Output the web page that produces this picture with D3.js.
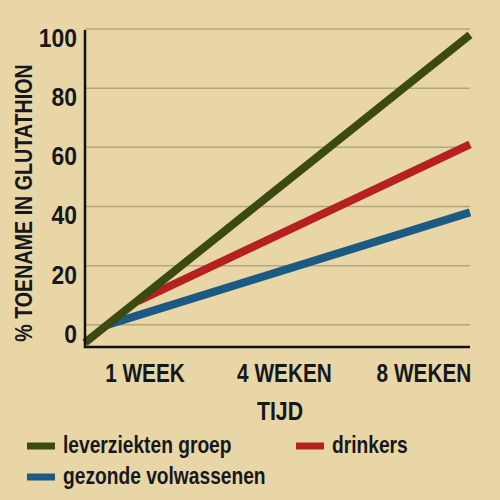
<!DOCTYPE html>
<html>
<head>
<meta charset="utf-8">
<script src="https://cdn.jsdelivr.net/npm/d3@7"></script>
<style>
  body { margin: 0; background: #e9d6a7; }
  svg { display: block; }
  text { font-family: "Liberation Sans Narrow", "Liberation Sans", sans-serif; font-weight: bold; fill: #15181c; }
</style>
</head>
<body>
<div id="chart"></div>
<script>
// data
const timeTicks = [1, 2, 3];
const timeLabels = ["1 WEEK", "4 WEKEN", "8 WEKEN"];
const valueTicks = [0, 20, 40, 60, 80, 100];

const liverTime = [0.57, 3.33];
const liverValue = [-6, 98];
const drinkersTime = [0.95, 3.33];
const drinkersValue = [8, 61];
const healthyTime = [0.73, 3.33];
const healthyValue = [0, 38];

const seriesNames = ["leverziekten groep", "drinkers", "gezonde volwassenen"];
const seriesColors = ["#3a4a10", "#b52020", "#1b5a82"];

window.addEventListener("load", () => {
  const width = 500, height = 500;
  const svg = d3.select("#chart").append("svg")
    .attr("width", width)
    .attr("height", height);

  svg.append("rect")
    .attr("width", width)
    .attr("height", height)
    .attr("fill", "#e9d6a7");

  // no narrow font here, so squeeze text horizontally
  const narrow = s => `scale(${s},1)`;

  // scales
  const x = d3.scaleLinear().domain([0.57, 3.33]).range([85, 470]);
  const y = d3.scaleLinear().domain([-7.5, 100]).range([347, 29]);

  // gridlines
  svg.append("g")
    .selectAll("line")
    .data(valueTicks)
    .join("line")
      .attr("x1", x.range()[0])
      .attr("x2", x.range()[1])
      .attr("y1", d => y(d))
      .attr("y2", d => y(d))
      .attr("stroke", "#b3a482")
      .attr("stroke-width", 1.5);

  // y tick labels
  svg.append("g")
    .selectAll("g")
    .data(valueTicks)
    .join("g")
      .attr("transform", d => `translate(77,${y(d) + 18})`)
    .append("text")
      .attr("transform", narrow(0.88))
      .attr("text-anchor", "end")
      .attr("font-size", 26)
      .text(d => d);

  // x tick labels
  svg.append("g")
    .selectAll("g")
    .data(timeTicks)
    .join("g")
      .attr("transform", d => `translate(${x(d)},382)`)
    .append("text")
      .attr("transform", narrow(0.8))
      .attr("text-anchor", "middle")
      .attr("font-size", 26)
      .text((d, i) => timeLabels[i]);

  // series lines, green last so it sits on top
  const series = [
    {name: seriesNames[2], color: seriesColors[2], t: healthyTime, v: healthyValue},
    {name: seriesNames[1], color: seriesColors[1], t: drinkersTime, v: drinkersValue},
    {name: seriesNames[0], color: seriesColors[0], t: liverTime, v: liverValue}
  ];

  const line = d3.line()
    .x(d => x(d[0]))
    .y(d => y(d[1]));

  svg.append("g")
    .selectAll("path")
    .data(series)
    .join("path")
      .attr("d", d => line(d3.zip(d.t, d.v)))
      .attr("fill", "none")
      .attr("stroke", d => d.color)
      .attr("stroke-width", 8);

  // axis lines
  svg.append("path")
    .attr("d", `M${x.range()[0]},${y(100) + 1}V${y.range()[0]}H${x.range()[1]}`)
    .attr("fill", "none")
    .attr("stroke", "#111")
    .attr("stroke-width", 2.5);

  // axis titles
  svg.append("g")
    .attr("transform", "translate(32,203) rotate(-90)")
    .append("text")
      .attr("transform", narrow(0.82))
      .attr("text-anchor", "middle")
      .attr("font-family", "Liberation Sans, sans-serif")
      .attr("font-size", 24)
      .text("% TOENAME IN GLUTATHION");

  svg.append("g")
    .attr("transform", "translate(280,420)")
    .append("text")
      .attr("transform", narrow(0.82))
      .attr("text-anchor", "middle")
      .attr("font-size", 26)
      .text("TIJD");

  // legend
  const legendPos = [[27, 446], [296, 446], [27, 477]];
  const legend = svg.append("g")
    .selectAll("g")
    .data(seriesNames)
    .join("g")
      .attr("transform", (d, i) => `translate(${legendPos[i][0]},${legendPos[i][1]})`);

  legend.append("line")
    .attr("x1", 0)
    .attr("x2", 28)
    .attr("stroke", (d, i) => seriesColors[i])
    .attr("stroke-width", 7);

  legend.append("g")
    .attr("transform", "translate(36,7)")
    .append("text")
      .attr("transform", narrow(0.8))
      .attr("font-size", 24)
      .attr("font-weight", 600)
      .text(d => d);
});
</script>
</body>
</html>
